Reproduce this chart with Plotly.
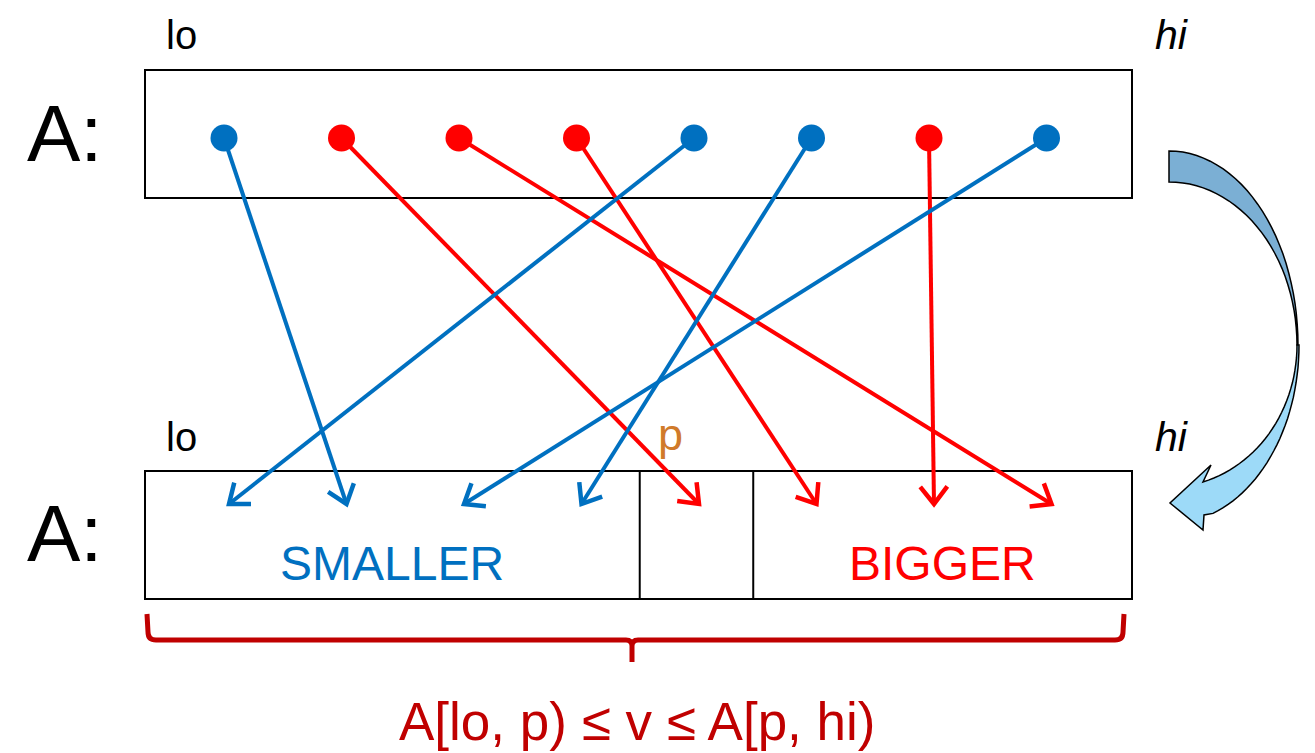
import math
import numpy as np
import plotly.graph_objects as go

# --- Data ---
# colour of each element in A before partitioning (top row, left to right)
elem_kind = ["small", "big", "big", "big", "small", "small", "big", "small"]
# slot in the partitioned array that each element moves to
dest_slot = [1, 4, 7, 5, 0, 3, 6, 2]
# partition regions in slot units: [start, end)
regions = ["SMALLER", "p", "BIGGER"]
region_edges = [0, 4.01, 4.93, 8]
row_labels = ["A:", "A:"]
formula = "A[lo, p) \u2264 v \u2264 A[p, hi)"

# --- Styles / layout ---
W, H = 1315, 753
PAGE_OFF = 8  # browser body margin
BLUE = "#0070C0"
RED = "#FF0000"
DARKRED = "#C00000"
ORANGE = "#D07A2A"
FONT = "Liberation Sans, Arial, sans-serif"
colors = {"small": BLUE, "big": RED}

BOX_L, BOX_R = 145, 1132
TOP_Y0, TOP_Y1 = 70, 198
BOT_Y0, BOT_Y1 = 471, 599
DOT_Y = 138
TIP_Y = 504
TOP_X0, BOT_X0, STEP = 224, 229, 117.5


def slot_x(i, x0):
    return x0 + STEP * i


def edge_px(e):
    # map slot-unit region edge to pixel on the box
    return BOX_L + (BOX_R - BOX_L) * e / 8


fig = go.Figure()

# arrows from old position to new slot
for i, (kind, j) in enumerate(zip(elem_kind, dest_slot)):
    c = colors[kind]
    x0, y0 = slot_x(i, TOP_X0), DOT_Y
    x1, y1 = slot_x(j, BOT_X0), TIP_Y
    fig.add_trace(go.Scatter(x=[x0, x1], y=[y0, y1], mode="lines",
                             line=dict(color=c, width=4), hoverinfo="skip"))
    ang = math.atan2(y1 - y0, x1 - x0)
    L, spread = 22, math.radians(38)
    hx = [x1 - L * math.cos(ang - spread), x1, x1 - L * math.cos(ang + spread)]
    hy = [y1 - L * math.sin(ang - spread), y1, y1 - L * math.sin(ang + spread)]
    fig.add_trace(go.Scatter(x=hx, y=hy, mode="lines",
                             line=dict(color=c, width=4.5), hoverinfo="skip"))

# dots on the top row
fig.add_trace(go.Scatter(
    x=[slot_x(i, TOP_X0) for i in range(len(elem_kind))],
    y=[DOT_Y] * len(elem_kind), mode="markers",
    marker=dict(size=27, color=[colors[k] for k in elem_kind], line=dict(width=0)),
    hoverinfo="skip"))

shapes = []
# boxes
for y0, y1 in [(TOP_Y0, TOP_Y1), (BOT_Y0, BOT_Y1)]:
    shapes.append(dict(type="rect", x0=BOX_L, x1=BOX_R, y0=y0, y1=y1,
                       line=dict(color="black", width=2), layer="below"))
for e in region_edges[1:-1]:
    shapes.append(dict(type="line", x0=edge_px(e), x1=edge_px(e), y0=BOT_Y0, y1=BOT_Y1,
                       line=dict(color="black", width=2)))

# brace under the bottom box
bl, br, bm = 147, 1124, 632
by0, by1, by2 = 614, 640, 662
brace = (f"M {bl},{by0} L {bl+1},{by1-8} Q {bl+1},{by1} {bl+9},{by1} "
         f"L {bm-6},{by1} Q {bm},{by1} {bm},{by1+6} L {bm},{by2} "
         f"M {br},{by0} L {br-1},{by1-8} Q {br-1},{by1} {br-9},{by1} "
         f"L {bm+6},{by1} Q {bm},{by1} {bm},{by1+6}")
shapes.append(dict(type="path", path=brace, line=dict(color=DARKRED, width=5)))

# curved block arrow at the right
cx, cy = 1169, 345


def arc(rx, ry, t0, t1, n=30):
    t = np.linspace(t0, t1, n)
    return [(cx + rx * math.cos(a), cy + ry * math.sin(a)) for a in t]


def to_path(pts, close=True):
    s = "M " + " L ".join(f"{x:.1f},{y:.1f}" for x, y in pts)
    return s + (" Z" if close else "")


top_outer = arc(129, 194, -math.pi / 2, 0)
top_inner = arc(128, 163, 0, -math.pi / 2)
shapes.append(dict(type="path", path=to_path(top_outer + top_inner),
                   fillcolor="#7BAFD4", line=dict(color="black", width=1.5)))
bot_left = arc(128, 142, 0, math.acos(34 / 128))
bot_right = arc(130, 179, math.acos(44 / 130), 0)
head = [(1211, 465), (1170, 503), (1203, 530), (1204, 515)]
shapes.append(dict(type="path", path=to_path(bot_left + head + bot_right),
                   fillcolor="#9DDAF8", line=dict(color="black", width=1.5)))

annotations = []


def txt(x, y, s, size, color="black", xanchor="center", italic=False):
    annotations.append(dict(x=x, y=y, text=f"<i>{s}</i>" if italic else s,
                            showarrow=False, xanchor=xanchor, yanchor="middle",
                            font=dict(family=FONT, size=size, color=color)))


for lab, yc in zip(row_labels, [133, 533]):
    txt(65, yc, lab, 80)
for yc in [35, 437]:
    txt(164, yc, "lo", 40, xanchor="left")
    txt(1153, yc, "hi", 41, xanchor="left", italic=True)
txt((edge_px(region_edges[0]) + edge_px(region_edges[1])) / 2, 563, regions[0], 48, BLUE)
txt(edge_px(region_edges[1]) + 16, 434, regions[1], 45, ORANGE, xanchor="left")
txt((edge_px(region_edges[2]) + edge_px(region_edges[3])) / 2, 563, regions[2], 48, RED)
txt(637, 721, formula, 53, DARKRED)

fig.update_layout(
    width=W, height=H, margin=dict(l=0, r=0, t=0, b=0),
    paper_bgcolor="white", plot_bgcolor="white", showlegend=False,
    xaxis=dict(range=[PAGE_OFF, W + PAGE_OFF], visible=False, fixedrange=True),
    yaxis=dict(range=[H + PAGE_OFF, PAGE_OFF], visible=False, fixedrange=True),
    shapes=shapes, annotations=annotations,
)

fig.write_html("out.html")
